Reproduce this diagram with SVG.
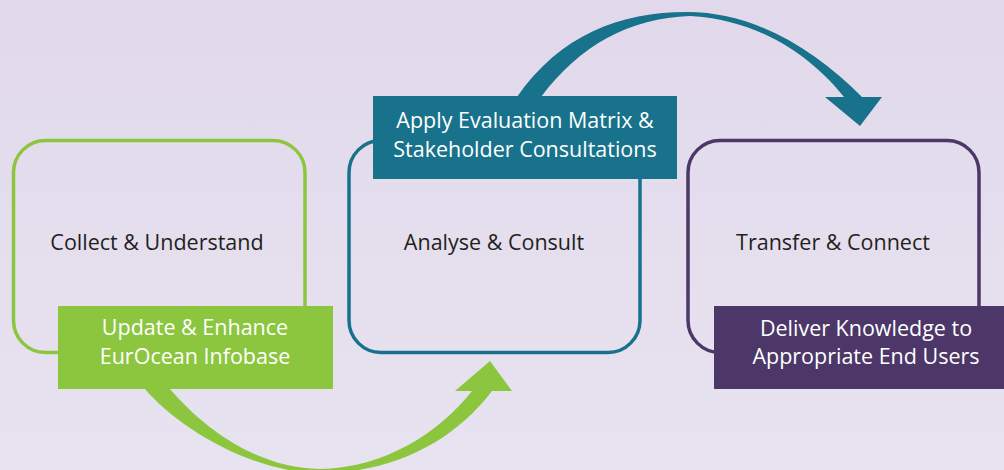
<svg xmlns="http://www.w3.org/2000/svg" width="1004" height="470" viewBox="0 0 1004 470">
  <defs>
    <linearGradient id="bg" x1="0" y1="0" x2="0" y2="1">
      <stop offset="0" stop-color="#e1d9eb"/>
      <stop offset="1" stop-color="#e8e3f0"/>
    </linearGradient>
    <style>
      .box { fill: none; stroke-width: 3.5; }
      .green { stroke: #8cc63f; }
      .teal { stroke: #18728b; }
      .purple { stroke: #4c3768; }
      .t { font-family: "Open Sans", "Liberation Sans", sans-serif; font-size: 21.5px; text-anchor: middle; }
      .dark { fill: #231f20; }
      .white { fill: #ffffff; }
    </style>
  </defs>
  <rect x="0" y="0" width="1004" height="470" fill="url(#bg)"/>

  <g id="connectors">
    <path id="arrow-top" fill="#18728b" d="M517,97 C560,35 620,12 687,12 C755,12 815,50 862,97 L882,97 L860,126 L825,97 L844,97 C816,62 765,20 690,16 C630,18 580,45 541,97 Z"/>
    <path id="arrow-bottom" fill="#8cc63f" d="M145,389 C175,425 250,473 320,473 C395,473 455,440 492,391 L512,391 L490,361 L455,391 L472,391 C440,432 385,468 320,469 C260,469 205,430 170,389 Z"/>
  </g>

  <g id="collect">
    <rect class="box green" x="13.5" y="140.5" width="291.5" height="212" rx="32"/>
    <text class="t dark" x="157" y="250">Collect &amp; Understand</text>
  </g>
  <g id="analyse">
    <rect class="box teal" x="349" y="140.5" width="291" height="212" rx="32"/>
    <text class="t dark" x="494" y="250">Analyse &amp; Consult</text>
  </g>
  <g id="transfer">
    <rect class="box purple" x="688" y="140.5" width="291" height="212" rx="32"/>
    <text class="t dark" x="833" y="250">Transfer &amp; Connect</text>
  </g>

  <g id="update">
    <rect x="58" y="306" width="275" height="83" fill="#8cc63f"/>
    <text class="t white" x="195" y="335">Update &amp; Enhance</text>
    <text class="t white" x="195" y="364">EurOcean Infobase</text>
  </g>
  <g id="apply">
    <rect x="373" y="96" width="304" height="83" fill="#18728b"/>
    <text class="t white" x="525" y="128">Apply Evaluation Matrix &amp;</text>
    <text class="t white" x="525" y="157">Stakeholder Consultations</text>
  </g>
  <g id="deliver">
    <rect x="714" y="306" width="290" height="83" fill="#4c3768"/>
    <text class="t white" x="866" y="336">Deliver Knowledge to</text>
    <text class="t white" x="866" y="364">Appropriate End Users</text>
  </g>
</svg>
